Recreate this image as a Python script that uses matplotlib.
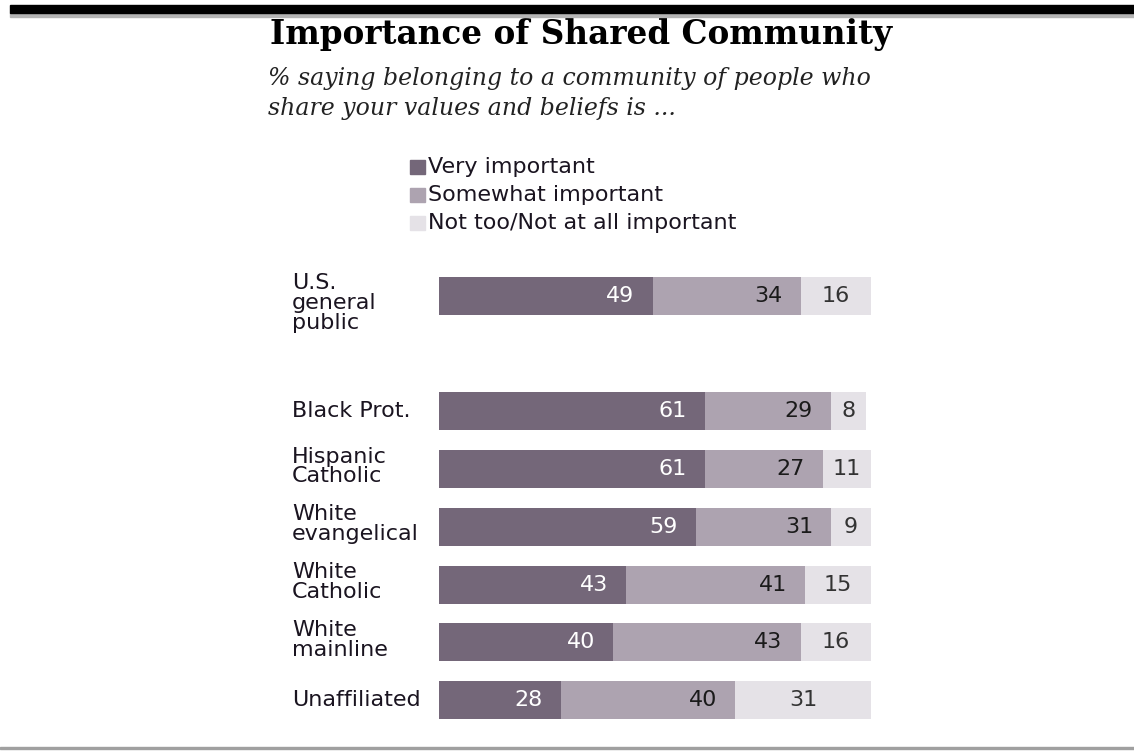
import matplotlib
matplotlib.use("Agg")
import matplotlib.pyplot as plt
from matplotlib.patches import Rectangle

categories = ["U.S.\ngeneral\npublic", "Black Prot.", "Hispanic\nCatholic", "White\nevangelical",
              "White\nCatholic", "White\nmainline", "Unaffiliated"]
very = [49, 61, 61, 59, 43, 40, 28]
somewhat = [34, 29, 27, 31, 41, 43, 40]
not_imp = [16, 8, 11, 9, 15, 16, 31]
series_names = ["Very important", "Somewhat important", "Not too/Not at all important"]
colors = ["#746779", "#ada3b0", "#e5e2e7"]
rows = [0, 2, 3, 4, 5, 6, 7]

W, H = 1134, 751
fig = plt.figure(figsize=(W / 100, H / 100), dpi=100)

def fx(px):
    return px / W

def fy(py):
    return 1 - py / H

# top and bottom rules
fig.patches.append(Rectangle((fx(10), fy(13)), 1, 8 / H, transform=fig.transFigure, color="black", zorder=5))
fig.patches.append(Rectangle((fx(10), fy(17)), 1, 4 / H, transform=fig.transFigure, color="#b5b5b5", zorder=4))
fig.patches.append(Rectangle((0, fy(749)), 1, 2 / H, transform=fig.transFigure, color="#a0a0a0", zorder=4))

FS = 16

# title
fig.text(fx(270), fy(44), "Importance of Shared Community", fontsize=23.5, fontweight="bold",
         family="DejaVu Serif", va="baseline", ha="left", color="black")
fig.text(fx(268), fy(79), "% saying belonging to a community of people who", fontsize=17, style="italic",
         family="DejaVu Serif", va="center", ha="left", color="#222222")
fig.text(fx(268), fy(109), "share your values and beliefs is ...", fontsize=17, style="italic",
         family="DejaVu Serif", va="center", ha="left", color="#222222")

# legend
for i, (name, c) in enumerate(zip(series_names, colors)):
    y = 167 + i * 28
    fig.patches.append(Rectangle((fx(410), fy(y + 7)), 15 / W, 14 / H, transform=fig.transFigure, color=c))
    fig.text(fx(428), fy(y), name, fontsize=FS, family="DejaVu Sans", va="center", ha="left", color="#1a1420")

# bars axes
x0, x1 = 439, 875
ytop, ybot = 267, 729
ax = fig.add_axes([fx(x0), fy(ybot), (x1 - x0) / W, (ybot - ytop) / H])
ax.set_xlim(0, 100)
ax.set_ylim(7.5, -0.5)
ax.axis("off")

bh = 0.66
ax.barh(rows, very, height=bh, color=colors[0], left=0)
ax.barh(rows, somewhat, height=bh, color=colors[1], left=very)
left3 = [a + b for a, b in zip(very, somewhat)]
ax.barh(rows, not_imp, height=bh, color=colors[2], left=left3)

for r, v, s, n, l3 in zip(rows, very, somewhat, not_imp, left3):
    ax.text(v - 4.2, r, str(v), ha="right", va="center", color="white", fontsize=FS, family="DejaVu Sans")
    ax.text(l3 - 4.2, r, str(s), ha="right", va="center", color="#1a1a1a", fontsize=FS, family="DejaVu Sans")
    ax.text(l3 + n / 2, r, str(n), ha="center", va="center", color="#333333", fontsize=FS, family="DejaVu Sans")

# category labels
lx = -147 / 4.36
for r, cat in zip(rows, categories):
    nlines = cat.count("\n") + 1
    if nlines == 1:
        ax.text(lx, r, cat, ha="left", va="center", fontsize=FS, family="DejaVu Sans",
                color="#1a1420", clip_on=False)
    else:
        ax.text(lx, r - bh / 2 - 0.06, cat, ha="left", va="top", fontsize=FS,
                family="DejaVu Sans", color="#1a1420", linespacing=0.98, clip_on=False)

fig.savefig("out.png", dpi=100)
